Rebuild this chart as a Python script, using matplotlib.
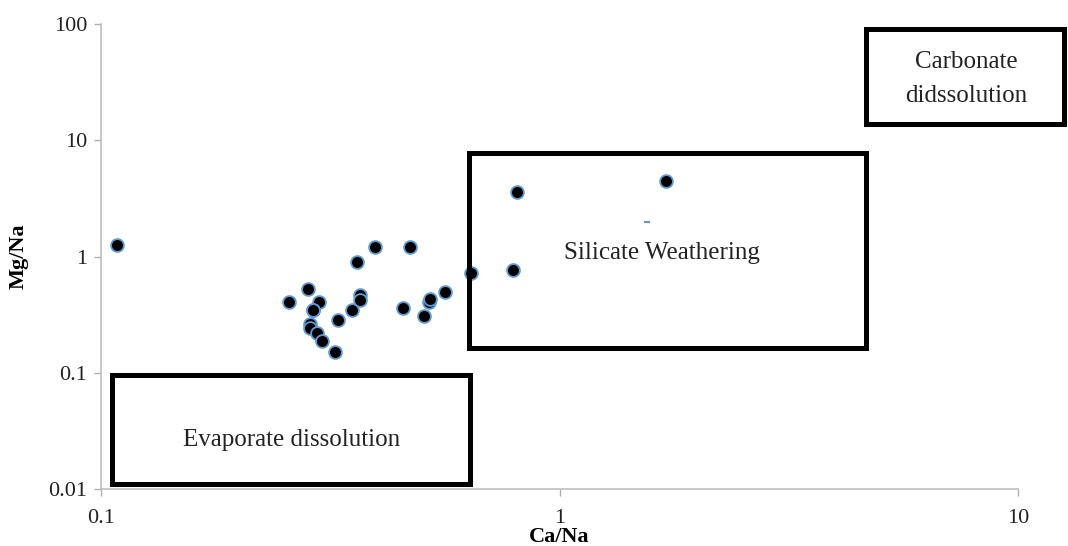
import numpy as np
import matplotlib.pyplot as plt
from matplotlib.patches import Rectangle
from matplotlib.ticker import FixedLocator, NullLocator

# Ca/Na and Mg/Na ratios
ca_na = [0.1085, 0.2577, 0.2827, 0.2987, 0.2907, 0.2900, 0.2850, 0.2850,
         0.2958, 0.3033, 0.3231, 0.3293, 0.3532, 0.3672, 0.3675, 0.3609,
         0.3966, 0.4728, 0.4548, 0.5056, 0.5194, 0.5230, 0.5638, 0.6415,
         0.7907, 0.8084, 1.704]
mg_na = [1.27, 0.405, 0.528, 0.410, 0.348, 0.350, 0.264, 0.244,
         0.219, 0.187, 0.150, 0.287, 0.348, 0.471, 0.427, 0.893,
         1.219, 1.219, 0.362, 0.307, 0.410, 0.433, 0.493, 0.718,
         0.773, 3.57, 4.44]
# tiny stray mark inside the silicate box
odd_x = [1.554]
odd_y = [1.97]

x_ticks = [0.1, 1, 10]
x_labels = ['0.1', '1', '10']
y_ticks = [0.01, 0.1, 1, 10, 100]
y_labels = ['0.01', '0.1', '1', '10', '100']

plt.rcParams['font.family'] = ['Liberation Serif', 'DejaVu Serif']

W, H = 1068, 546
fig = plt.figure(figsize=(W / 100, H / 100), dpi=100)
ax = fig.add_axes([101 / W, 1 - 489.3 / H, (1018 - 101) / W, (489.3 - 24) / H])

ax.set_xscale('log')
ax.set_yscale('log')
ax.set_xlim(0.1, 10)
ax.set_ylim(0.01, 100)

ax.scatter(ca_na, mg_na, s=85, c='black', edgecolors='#5B9BD5',
           linewidths=1.3, zorder=5, clip_on=False)
ax.plot(odd_x, odd_y, marker='_', color='#5B9BD5', markersize=5,
        markeredgewidth=1.5, linestyle='none', zorder=5)

ax.xaxis.set_major_locator(FixedLocator(x_ticks))
ax.yaxis.set_major_locator(FixedLocator(y_ticks))
ax.xaxis.set_minor_locator(NullLocator())
ax.yaxis.set_minor_locator(NullLocator())
ax.set_xticklabels(x_labels)
ax.set_yticklabels(y_labels)
ax.tick_params(axis='both', colors='#B0B0B0', labelcolor='#222222',
               length=5, width=1, labelsize=16, direction='out')
ax.tick_params(axis='x', pad=9)
ax.tick_params(axis='y', pad=5)

for side in ['top', 'right']:
    ax.spines[side].set_visible(False)
for side in ['left', 'bottom']:
    ax.spines[side].set_color('#BFBFBF')
    ax.spines[side].set_linewidth(1.2)

ax.set_xlabel('Ca/Na', fontsize=16, fontweight='bold')
ax.set_ylabel('Mg/Na', fontsize=16, fontweight='bold')
ax.xaxis.set_label_coords(0.5, (489.3 - 537) / (489.3 - 24), transform=ax.transAxes)
ax.yaxis.set_label_coords((19 - 101) / (1018 - 101), 0.5)
ax.xaxis.label.set_va('center')
ax.yaxis.label.set_va('center')


def box(x0, y0, x1, y1):
    # pixel corners (top-left origin) -> figure fraction
    r = Rectangle((x0 / W, 1 - y1 / H), (x1 - x0) / W, (y1 - y0) / H,
                  transform=fig.transFigure, fill=False, edgecolor='black',
                  linewidth=3.6, zorder=4)
    fig.add_artist(r)


box(111.5, 374.5, 469.5, 483.5)
box(469, 153, 866, 348)
box(865.5, 28.5, 1064, 124)

fig.text(292 / W, 1 - 440 / H, 'Evaporate dissolution', fontsize=18,
         ha='center', va='center', color='#222222')
fig.text(662 / W, 1 - 253 / H, 'Silicate Weathering', fontsize=18,
         ha='center', va='center', color='#222222')
fig.text(966 / W, 1 - 79 / H, 'Carbonate\ndidssolution', fontsize=18,
         ha='center', va='center', color='#222222', linespacing=1.75)

fig.savefig('out.png', dpi=100)
